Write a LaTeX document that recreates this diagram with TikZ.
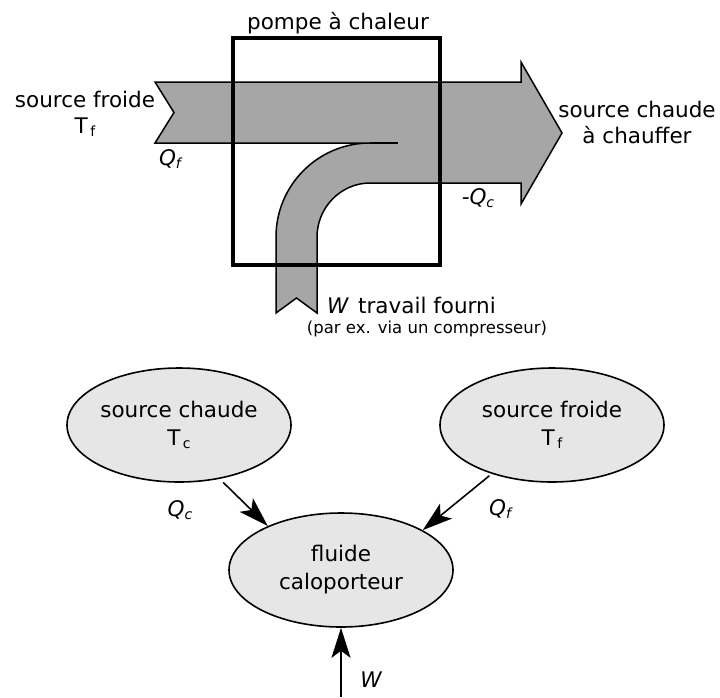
\documentclass[tikz,border=0pt]{standalone}
\usepackage{fontspec}
\setmainfont{DejaVu Sans}
\usetikzlibrary{shapes.geometric,arrows.meta}
\definecolor{flowgray}{HTML}{A6A6A6}
\definecolor{bubblegray}{HTML}{E6E6E6}
\newcommand{\lowidx}[1]{\hspace{2.5pt}\raisebox{-3pt}{\fontsize{14}{14}\selectfont #1}}
\newcommand{\italidx}[1]{\raisebox{-3pt}{\fontsize{14}{14}\selectfont\itshape #1}}
\begin{document}
\begin{tikzpicture}[x=1pt,y=-1pt,
  txt/.style={font=\fontsize{21.5}{26}\selectfont, inner sep=0pt},
  small/.style={font=\fontsize{16.5}{20}\selectfont, inner sep=0pt},
  flowline/.style={draw=black, line width=1.5pt, line join=miter},
  bubble/.style={ellipse, draw=black, line width=1.6pt, fill=bubblegray,
    minimum width=224pt, minimum height=114pt, inner sep=0pt, align=center,
    font=\fontsize{21.5}{28}\selectfont},
  arr/.style={line width=1.6pt, -{Stealth[length=30pt,width=19pt,inset=7pt]}}]
\useasboundingbox (0,0) rectangle (720,697);

% ---- top: heat pump flow diagram ----
\path[flowline, fill=flowgray]
  (155,82) -- (521,82) -- (521,62) -- (562,133) -- (521,204) -- (521,183)
  -- (370,183) .. controls (340.7,183) and (317,207.7) .. (317,237)
  -- (317,313) -- (296.5,298) -- (276,313) -- (276,237)
  .. controls (276,185.1) and (318.1,143) .. (370,143)
  -- (155,143) -- (174,112.5) -- cycle;
\draw[flowline] (370,143) -- (398,143);

\node[draw=black, line width=3.5pt, minimum width=207pt, minimum height=227pt,
  inner sep=0pt] (pac) at (336.5,151.5) {};
\node[txt, anchor=base] (title) at (338,29) {pompe à chaleur};

\node[txt, align=center] (froid) at (85,114) {source froide\\T\lowidx{f}};
\node[txt, anchor=base] (qf) at (170,165) {\itshape Q\italidx{f}};
\node[txt, align=center] (chaud) at (637,122) {source chaude\\à chauffer};
\node[txt, anchor=base] (qc) at (478,204) {\itshape -Q\italidx{c}};
\node[txt, anchor=base west] (wtop) at (327,313) {\itshape W};
\node[txt, anchor=base west] (trav) at (358,313) {travail fourni};
\node[small, anchor=base] (comp) at (427,333) {(par ex. via un compresseur)};

% ---- bottom: schematic ----
\node[bubble] (sc) at (179,425) {source chaude\\T\lowidx{c}};
\node[bubble] (sf) at (552,425) {source froide\\T\lowidx{f}};
\node[bubble] (fl) at (341,570) {fluide\\caloporteur};
\coordinate (wbase) at (341,697);

\draw[arr, shorten <=5pt] (sc.-53) -- (fl.149);
\draw[arr, shorten <=3pt] (sf.-141) -- (fl.26);
\draw[arr] (wbase) -- (fl.south);

\node[txt, anchor=base] (lqc) at (180,516) {\itshape Q\italidx{c}};
\node[txt, anchor=base] (lqf) at (500,515) {\itshape Q\italidx{f}};
\node[txt, anchor=base] (lw) at (371,687) {\itshape W};
\end{tikzpicture}
\end{document}
